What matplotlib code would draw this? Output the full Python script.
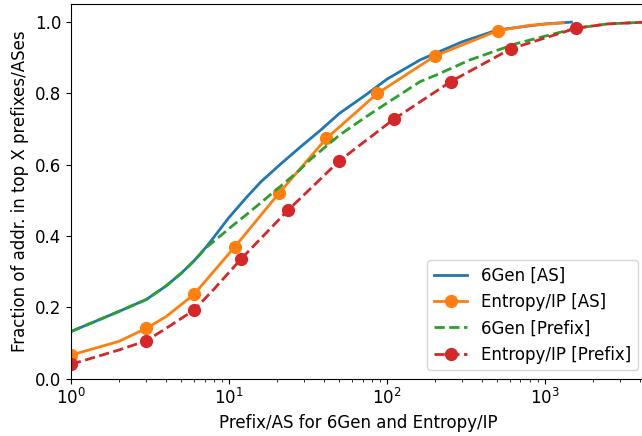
import matplotlib
matplotlib.use('Agg')
import matplotlib.pyplot as plt

plt.rcParams.update({
    'font.family': 'DejaVu Sans',
    'font.size': 12,
    'axes.labelsize': 12,
    'xtick.labelsize': 12,
    'ytick.labelsize': 12,
    'legend.fontsize': 12,
})

# 6Gen [AS]
gen_as_x = [1, 2, 3, 4, 5, 6, 7.2, 8, 10, 13, 16, 21, 28, 38, 50, 74, 100, 162, 300, 500, 1000, 1470]
gen_as_y = [0.132, 0.188, 0.222, 0.260, 0.296, 0.330, 0.370, 0.396, 0.452, 0.510, 0.553, 0.600,
            0.648, 0.697, 0.744, 0.797, 0.840, 0.894, 0.945, 0.978, 0.995, 1.0]

# Entropy/IP [AS]
ent_as_x = [1, 2, 3, 4, 6, 10.9, 20.8, 41.4, 87, 201, 502, 800, 1306]
ent_as_y = [0.066, 0.104, 0.141, 0.174, 0.236, 0.370, 0.521, 0.674, 0.800, 0.905, 0.976, 0.991, 0.998]
ent_as_marks = [0, 2, 4, 5, 6, 7, 8, 9, 10]

# 6Gen [Prefix]
gen_pf_x = [1, 2, 3, 4, 5, 6, 7.2, 8.8, 10.6, 12.9, 21, 28, 32.6, 50, 74, 100, 162, 206,
            335, 661, 1572, 2500, 4360]
gen_pf_y = [0.132, 0.188, 0.222, 0.260, 0.296, 0.330, 0.368, 0.400, 0.430, 0.460, 0.538,
            0.585, 0.614, 0.683, 0.735, 0.773, 0.833, 0.852, 0.894, 0.940, 0.983, 0.995, 1.0]

# Entropy/IP [Prefix]
ent_pf_x = [1, 2, 3, 4, 6, 8, 11.9, 23.7, 50, 110, 253, 607, 1572, 2500, 4360]
ent_pf_y = [0.040, 0.080, 0.106, 0.141, 0.192, 0.250, 0.335, 0.473, 0.611, 0.727, 0.833,
            0.925, 0.983, 0.995, 1.0]
ent_pf_marks = [0, 2, 4, 6, 7, 8, 9, 10, 11, 12]

fig = plt.figure(figsize=(6.42, 4.36), dpi=100)
ax = fig.add_axes([71 / 642, 1 - 378.6 / 436, (646 - 71) / 642, (378.6 - 4.3) / 436])

ax.plot(gen_as_x, gen_as_y, color='C0', lw=2, label='6Gen [AS]')
ax.plot(ent_as_x, ent_as_y, color='C1', lw=2, marker='o', markersize=8.5,
        markevery=ent_as_marks, label='Entropy/IP [AS]')
ax.plot(gen_pf_x, gen_pf_y, color='C2', lw=2, ls='--', label='6Gen [Prefix]')
ax.plot(ent_pf_x, ent_pf_y, color='C3', lw=2, ls='--', marker='o', markersize=8.5,
        markevery=ent_pf_marks, label='Entropy/IP [Prefix]')

ax.set_xscale('log')
ax.set_xlim(1, 4360)
ax.set_ylim(0, 1.05)
ax.set_xlabel('Prefix/AS for 6Gen and Entropy/IP')
ax.set_ylabel('Fraction of addr. in top X prefixes/ASes')
ax.legend(loc='lower right')

plt.savefig('out.png', dpi=100)
plt.close()
